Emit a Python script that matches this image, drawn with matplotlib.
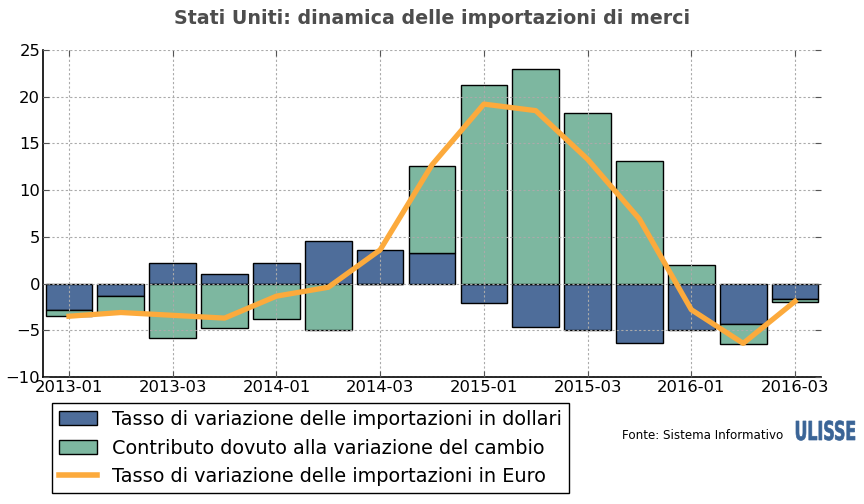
import numpy as np
import matplotlib
matplotlib.use('Agg')
import matplotlib.pyplot as plt
from matplotlib.patches import Patch, PathPatch
from matplotlib.lines import Line2D
from matplotlib.textpath import TextPath
from matplotlib.font_manager import FontProperties
from matplotlib.transforms import Affine2D

quarters = ['2013-01', '2013-02', '2013-03', '2013-04',
            '2014-01', '2014-02', '2014-03', '2014-04',
            '2015-01', '2015-02', '2015-03', '2015-04',
            '2016-01', '2016-02', '2016-03']
# variazione in dollari
dollari = [-2.8, -1.3, 2.2, 1.0, 2.2, 4.6, 3.6, 3.3, -2.1, -4.6, -5.0, -6.4, -5.0, -4.3, -1.7]
# contributo del cambio
cambio = [-0.7, -1.9, -5.8, -4.8, -3.8, -5.0, -0.1, 9.3, 21.2, 23.0, 18.2, 13.1, 2.0, -2.2, -0.3]
# variazione in euro
euro = [-3.5, -3.1, -3.4, -3.7, -1.35, -0.4, 3.6, 12.7, 19.2, 18.5, 13.3, 6.9, -2.8, -6.4, -1.9]

c_blue = '#4e6d9a'
c_green = '#7db7a0'
c_orange = '#fcaa3c'

x = np.arange(len(quarters))
dollari = np.array(dollari)
cambio = np.array(cambio)
# green stacks on blue when same sign, otherwise starts from zero
base = np.where(np.sign(dollari) == np.sign(cambio), dollari, 0.0)

fig = plt.figure(figsize=(8.64, 5.04), dpi=100)
ax = fig.add_axes([0.0498, 0.252, 0.9004, 0.649])

ax.bar(x, dollari, width=0.9, color=c_blue, edgecolor='black', linewidth=1, zorder=2)
ax.bar(x, cambio, width=0.9, bottom=base, color=c_green, edgecolor='black', linewidth=1, zorder=2)
ax.plot(x, euro, color=c_orange, lw=3.8, zorder=4)

ax.set_xlim(-0.5, 14.5)
ax.set_ylim(-10, 25)
ax.set_yticks(np.arange(-10, 26, 5))
ax.set_xticks(x[::2])
ax.set_xticklabels(quarters[::2])
ax.grid(True, color='#aaaaaa', linestyle=(0, (2, 2)), linewidth=0.8, zorder=3)
ax.set_axisbelow(False)
for s in ['top', 'right']:
    ax.spines[s].set_visible(False)
for s in ['left', 'bottom']:
    ax.spines[s].set_linewidth(1.2)
ax.tick_params(direction='in', top=True, right=True, labelsize=11.8, length=4,
               color='#555555', pad=2)

fig.suptitle('Stati Uniti: dinamica delle importazioni di merci', x=0.5, y=0.983,
             fontsize=13.7, fontweight='bold', color='#4d4d4d')

handles = [Patch(facecolor=c_blue, edgecolor='black'),
           Patch(facecolor=c_green, edgecolor='black'),
           Line2D([0], [0], color=c_orange, lw=4)]
labels = ['Tasso di variazione delle importazioni in dollari',
          'Contributo dovuto alla variazione del cambio',
          'Tasso di variazione delle importazioni in Euro']
leg = fig.legend(handles, labels, loc='upper left', bbox_to_anchor=(0.06, 0.2),
                 fontsize=13.85, fancybox=False, edgecolor='black', framealpha=1,
                 borderaxespad=0, handlelength=2.0, labelspacing=0.5,
                 borderpad=0.35)
leg.get_frame().set_linewidth(1)

fig.text(0.72, 0.135, 'Fonte: Sistema Informativo', fontsize=8.6, va='center')

# logo: condensed bold text drawn as a path (pixel coordinates)
tp = TextPath((0, 0), 'ULISSE', size=1, prop=FontProperties(family='DejaVu Sans', weight='bold'))
ext = tp.get_extents()
sy = 19 / 0.729
sx = 59 / ext.width
logo_tr = Affine2D().translate(-ext.x0, 0).scale(sx, sy).translate(796, 504 - 440)
fig.add_artist(PathPatch(tp, transform=logo_tr, facecolor='#3a6496', edgecolor='#3a6496', lw=0.5))

fig.savefig('out.png', dpi=100)
